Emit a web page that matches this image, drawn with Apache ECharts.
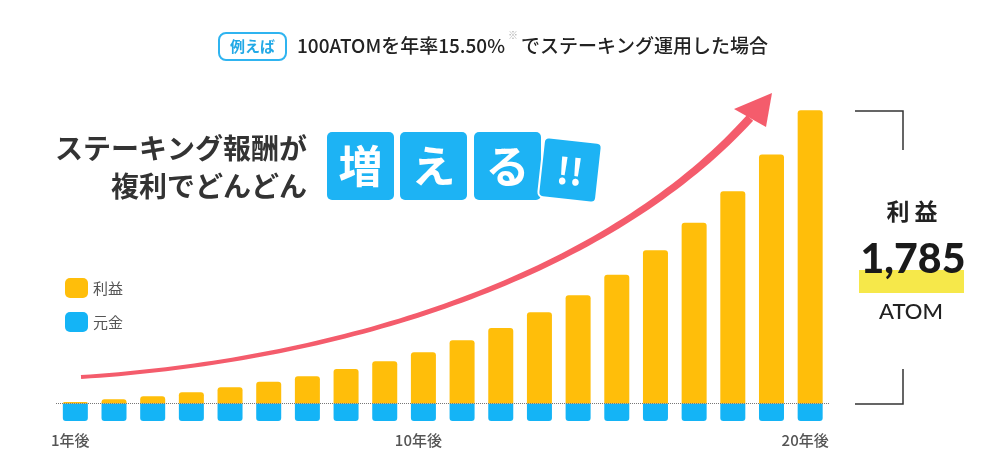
<!DOCTYPE html>
<html>
<head>
<meta charset="utf-8">
<script src="https://cdn.jsdelivr.net/npm/echarts@6/dist/echarts.min.js"></script>
<style>
html,body{margin:0;padding:0;background:#fff;}
#main{width:1000px;height:474px;}
</style>
</head>
<body>
<div id="main"></div>
<script>
// ---- data ----
const years = ['1年後','2年後','3年後','4年後','5年後','6年後','7年後','8年後','9年後','10年後',
               '11年後','12年後','13年後','14年後','15年後','16年後','17年後','18年後','19年後','20年後'];
const principal = [100,100,100,100,100,100,100,100,100,100,100,100,100,100,100,100,100,100,100,100];
const profit = [9,25,42,65,94,125,157,199,243,295,364,435,525,622,740,881,1040,1220,1431,1686];
const shownLabels = ['1年後','10年後','20年後'];
const seriesNames = ['利益','元金'];
const titleText1 = '100ATOMを年率15.50%';
const titleText2 = 'でステーキング運用した場合';
const badgeText = '例えば';
const headline1 = 'ステーキング報酬が';
const headline2 = '複利でどんどん';
const boxChars = ['増','え','る'];
const totalLabel = '利 益';
const totalValue = '1,785';
const unitLabel = 'ATOM';

const ORANGE = '#ffbe0a';
const BLUE = '#14b4f6';
const RED = '#f45c6c';
const FONT = '"Noto Sans CJK JP", "Noto Sans", sans-serif';

// ---- decorative arrow (tapered curve) ----
function arrowShapes(){
  const P0=[81,377], P1=[331,361], P2=[600,282.5], P3=[750,118];
  const L=[], R=[];
  const N=80;
  for(let i=0;i<=N;i++){
    const t=i/N, u=1-t;
    const x=u*u*u*P0[0]+3*u*u*t*P1[0]+3*u*t*t*P2[0]+t*t*t*P3[0];
    const y=u*u*u*P0[1]+3*u*u*t*P1[1]+3*u*t*t*P2[1]+t*t*t*P3[1];
    const dx=3*u*u*(P1[0]-P0[0])+6*u*t*(P2[0]-P1[0])+3*t*t*(P3[0]-P2[0]);
    const dy=3*u*u*(P1[1]-P0[1])+6*u*t*(P2[1]-P1[1])+3*t*t*(P3[1]-P2[1]);
    const len=Math.hypot(dx,dy);
    const nx=-dy/len, ny=dx/len;
    const w=(4+4.5*t*t)/2;
    L.push([x+nx*w,y+ny*w]); R.push([x-nx*w,y-ny*w]);
  }
  const shaft=L.concat(R.reverse());
  return [
    {type:'polygon', shape:{points:shaft}, style:{fill:RED}, z:5},
    {type:'polygon', shape:{points:[[772,93],[734,109],[766,127]]}, style:{fill:RED}, z:5}
  ];
}

const chart = echarts.init(document.getElementById('main'), null, {renderer:'canvas'});

const graphics = [];
// badge
graphics.push({type:'rect', shape:{x:219,y:33,width:67,height:27,r:7},
  style:{fill:'#fff', stroke:'#2fb4f0', lineWidth:2}, z:10});
graphics.push({type:'text', x:252.5, y:46.5, style:{text:badgeText, fill:'#22a9e6',
  font:'bold 15px '+FONT, textAlign:'center', textVerticalAlign:'middle'}, z:11});
// title
graphics.push({type:'text', x:297, y:46, style:{text:titleText1, fill:'#222',
  font:'500 19px '+FONT, textAlign:'left', textVerticalAlign:'middle'}, z:11});
graphics.push({type:'text', x:508, y:35, style:{text:'※', fill:'#aaa',
  font:'10px '+FONT, textAlign:'left', textVerticalAlign:'middle'}, z:11});
graphics.push({type:'text', x:521, y:46, style:{text:titleText2, fill:'#222',
  font:'500 19px '+FONT, textAlign:'left', textVerticalAlign:'middle'}, z:11});
// headline
graphics.push({type:'text', x:307, y:148, style:{text:headline1, fill:'#333',
  font:'bold 28px '+FONT, textAlign:'right', textVerticalAlign:'middle'}, z:11});
graphics.push({type:'text', x:307, y:186, style:{text:headline2, fill:'#333',
  font:'bold 28px '+FONT, textAlign:'right', textVerticalAlign:'middle'}, z:11});
// 増える boxes
const boxX=[327,400,474];
boxChars.forEach((c,i)=>{
  graphics.push({type:'rect', shape:{x:boxX[i],y:132,width:67,height:68,r:5},
    style:{fill:'#1db3f4'}, z:10});
  graphics.push({type:'text', x:boxX[i]+33.5, y:166, style:{text:c, fill:'#fff',
    font:'bold 44px '+FONT, textAlign:'center', textVerticalAlign:'middle'}, z:11});
});
graphics.push({type:'group', x:570, y:170, rotation:-0.11, z:12, children:[
  {type:'rect', shape:{x:-29,y:-30,width:58,height:60,r:5},
    style:{fill:'#1db3f4', stroke:'#fff', lineWidth:2}, z:12},
  {type:'text', x:0, y:1, style:{text:'!!', fill:'#fff',
    font:'bold 36px '+FONT, textAlign:'center', textVerticalAlign:'middle'}, z:13}
]});
// right summary
graphics.push({type:'polyline', shape:{points:[[855,111],[903,111],[903,150]]},
  style:{stroke:'#333', lineWidth:1.5, fill:null}, z:10});
graphics.push({type:'polyline', shape:{points:[[903,369],[903,404],[855,404]]},
  style:{stroke:'#333', lineWidth:1.5, fill:null}, z:10});
graphics.push({type:'text', x:912, y:211, style:{text:totalLabel, fill:'#222',
  font:'bold 23px '+FONT, textAlign:'center', textVerticalAlign:'middle'}, z:11});
graphics.push({type:'rect', shape:{x:859,y:270,width:105,height:23},
  style:{fill:'#f6e84a'}, z:10});
graphics.push({type:'text', x:913, y:260, style:{text:totalValue, fill:'#1a1a1a',
  font:'900 41px Lato, "Open Sans", sans-serif', textAlign:'center', textVerticalAlign:'middle'}, z:11});
graphics.push({type:'text', x:911, y:312, style:{text:unitLabel, fill:'#222',
  font:'500 22px Lato, "Open Sans", sans-serif', textAlign:'center', textVerticalAlign:'middle'}, z:11});
arrowShapes().forEach(s=>graphics.push(s));

const option = {
  animation:false,
  backgroundColor:'#fff',
  grid:{left:56, width:773.5, top:73, height:348, containLabel:false},
  legend:{
    data:seriesNames, orient:'vertical', left:65, top:278,
    itemWidth:23, itemHeight:20, itemGap:14, icon:'roundRect', padding:0,
    textStyle:{fontSize:15, color:'#555', fontFamily:FONT}, selectedMode:false
  },
  xAxis:{
    type:'category', data:years,
    axisLine:{show:false}, axisTick:{show:false},
    axisLabel:{
      interval:(idx,val)=>shownLabels.includes(val),
      color:'#555', fontSize:15, fontWeight:500, fontFamily:FONT, margin:12,
      padding:[0,10,0,0]
    }
  },
  yAxis:{type:'value', min:0, max:2000, show:false, splitLine:{show:false}},
  series:[
    {
      name:seriesNames[1], type:'bar', stack:'total', data:principal, barWidth:25,
      itemStyle:{color:BLUE, borderRadius:[0,0,3,3]},
      markLine:{
        silent:true, symbol:'none', label:{show:false},
        lineStyle:{color:'#777', type:'dotted', width:1},
        data:[{yAxis:100}]
      },
      z:2
    },
    {
      name:seriesNames[0], type:'bar', stack:'total', data:profit, barWidth:25,
      itemStyle:{color:ORANGE, borderRadius:[3,3,0,0]},
      z:2
    }
  ],
  graphic:graphics
};
chart.setOption(option);
</script>
</body>
</html>
